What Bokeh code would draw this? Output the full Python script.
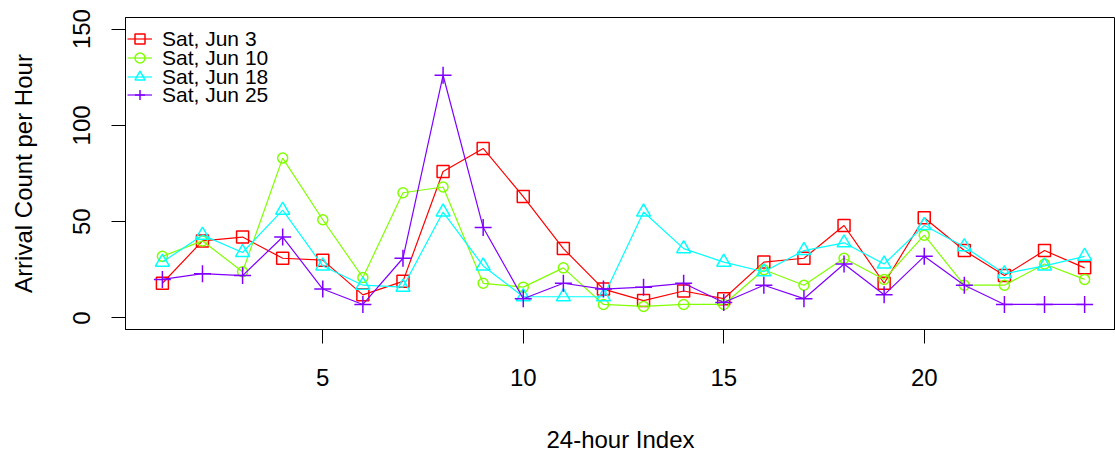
from bokeh.plotting import figure
from bokeh.models import ColumnDataSource, Range1d, FixedTicker, Legend, LegendItem
from bokeh.embed import file_html
from bokeh.resources import INLINE

# Hourly arrival counts for four Saturdays in June
hours = list(range(1, 25))
jun3 = [18, 40, 42, 31, 30, 12, 19, 76, 88, 63, 36, 15, 9, 14, 10, 29, 31, 48, 18, 52, 35, 22, 35, 26]
jun10 = [32, 40, 24, 83, 51, 21, 65, 68, 18, 16, 26, 7, 6, 7, 7, 25, 17, 31, 20, 43, 17, 17, 28, 20]
jun18 = [29, 43, 34, 56, 27, 17, 16, 55, 27, 11, 11, 11, 55, 36, 29, 24, 35, 39, 28, 48, 37, 23, 27, 32]
jun25 = [20, 23, 22, 42, 15, 7, 31, 126, 47, 10, 18, 15, 16, 18, 8, 17, 10, 28, 12, 32, 17, 7, 7, 7]

series_names = ["Sat, Jun 3", "Sat, Jun 10", "Sat, Jun 18", "Sat, Jun 25"]
series_keys = ["jun3", "jun10", "jun18", "jun25"]
x_ticks = [5, 10, 15, 20]
y_ticks = [0, 50, 100, 150]

colors = ["#FF0000", "#80FF00", "#00FFFF", "#8000FF"]
markers = ["square", "circle", "triangle", "cross"]
marker_sizes = [12, 10, 14, 17]

FONT = "Liberation Sans"

source = ColumnDataSource(dict(hour=hours, jun3=jun3, jun10=jun10, jun18=jun18, jun25=jun25))

p = figure(
    width=1115, height=458,
    x_range=Range1d(0.08, 24.77), y_range=Range1d(-6, 156),
    output_backend="svg", toolbar_location=None,
    min_border_left=125, min_border_right=0, min_border_top=17, min_border_bottom=129,
    background_fill_color="white", border_fill_color="white",
)
p.outline_line_color = "black"
p.outline_line_width = 1
p.xgrid.visible = False
p.ygrid.visible = False

for ax in (p.xaxis[0], p.yaxis[0]):
    ax.axis_line_color = "black"
    ax.major_tick_line_color = "black"
    ax.major_tick_in = 0
    ax.major_tick_out = 14
    ax.minor_tick_line_color = None
    ax.major_label_text_font = FONT
    ax.major_label_text_font_size = "24px"
    ax.major_label_text_color = "black"
    ax.axis_label_text_font = FONT
    ax.axis_label_text_font_size = "24px"
    ax.axis_label_text_font_style = "normal"
    ax.axis_label_text_color = "black"

p.xaxis.ticker = FixedTicker(ticks=x_ticks)
p.yaxis.ticker = FixedTicker(ticks=y_ticks)
p.xaxis.axis_label = "24-hour Index"
p.yaxis.axis_label = "Arrival Count per Hour"
p.yaxis.major_label_orientation = "vertical"
p.xaxis.major_label_standoff = 25
p.yaxis.major_label_standoff = 21
p.xaxis.axis_label_standoff = 37
p.yaxis.axis_label_standoff = 34

# One single-row legend per series, stacked with tight R-style line spacing
legend_offsets = [278, 259, 240, 222]
for key, name, col, mk, sz, off in zip(series_keys, series_names, colors, markers, marker_sizes, legend_offsets):
    ln = p.line("hour", key, source=source, line_color=col, line_width=1.2)
    sc = p.scatter("hour", key, source=source, marker=mk, size=sz,
                   line_color=col, fill_color=None, line_width=1.5)
    leg = Legend(
        items=[LegendItem(label=name, renderers=[ln, sc])], location=(2, off),
        label_text_font=FONT, label_text_font_size="21px", label_text_color="black",
        glyph_width=25, glyph_height=25, label_standoff=10,
        spacing=0, padding=0, margin=0,
        border_line_color=None, background_fill_alpha=0,
    )
    p.add_layout(leg, "center")

open("out.html", "w").write(file_html(p, INLINE))
